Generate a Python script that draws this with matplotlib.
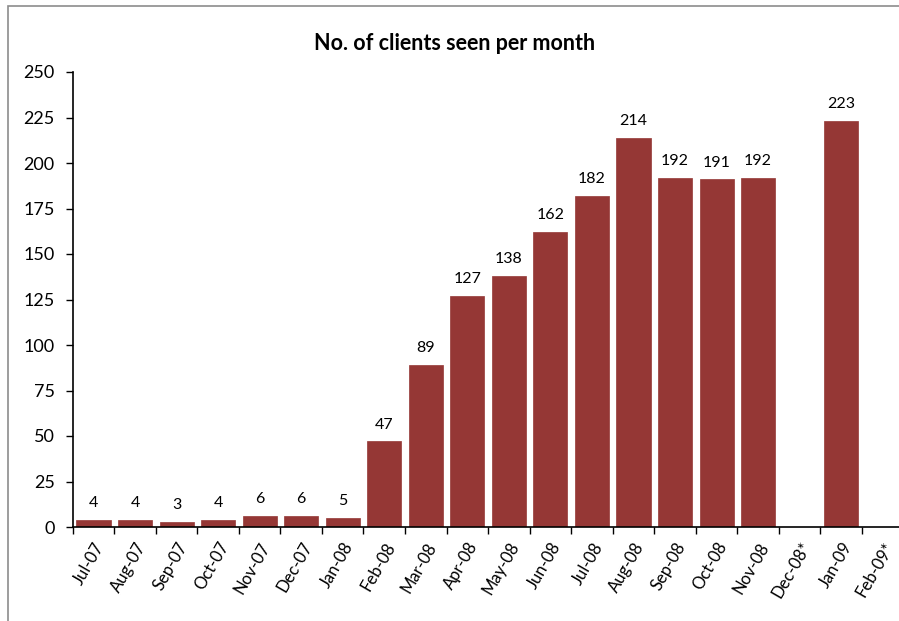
import numpy as np
import matplotlib.pyplot as plt
from matplotlib.patches import Rectangle

plt.rcParams['font.family'] = ['Lato', 'DejaVu Sans']

months = ['Jul-07', 'Aug-07', 'Sep-07', 'Oct-07', 'Nov-07', 'Dec-07', 'Jan-08',
          'Feb-08', 'Mar-08', 'Apr-08', 'May-08', 'Jun-08', 'Jul-08', 'Aug-08',
          'Sep-08', 'Oct-08', 'Nov-08', 'Dec-08*', 'Jan-09', 'Feb-09*']
clients = [4, 4, 3, 4, 6, 6, 5, 47, 89, 127, 138, 162, 182, 214, 192, 191, 192,
           None, 223, None]
yticks = [0, 25, 50, 75, 100, 125, 150, 175, 200, 225, 250]

fig = plt.figure(figsize=(8.99, 6.21), dpi=100)
# outer chart frame (cut off at right and bottom)
fig.patches.append(Rectangle((8 / 899, -0.1), 1.2, 1 - 6 / 621 + 0.1,
                             transform=fig.transFigure, fill=False,
                             edgecolor='#8c8c8c', linewidth=1.2))
ax = fig.add_axes([72.7 / 899, 1 - 527 / 621, (903.5 - 72.7) / 899, (527 - 72) / 621])

x = np.arange(len(months))
for xi, v in zip(x, clients):
    if v is None:
        continue
    ax.bar(xi, v, width=0.82, color='#953735', edgecolor='#953735', linewidth=0.5)
    ax.annotate(str(v), (xi, v), xytext=(0, 7), textcoords='offset points',
                ha='center', va='bottom', fontsize=11.5)

ax.set_xlim(-0.5, len(months) - 0.5)
ax.set_ylim(0, 250)
ax.set_yticks(yticks)
ax.set_yticklabels([str(t) for t in yticks], fontsize=13)
ax.set_xticks(x)
ax.set_xticklabels(months, rotation=60, ha='right', va='top',
                   rotation_mode='anchor', fontsize=12)
ax.tick_params(axis='x', length=0, pad=9)
ax.set_xticks(np.arange(len(months)) - 0.5, minor=True)
ax.tick_params(axis='x', which='minor', length=5, direction='out', width=1)
ax.tick_params(axis='y', length=5, width=1, direction='out', pad=8)
for s in ['top', 'right']:
    ax.spines[s].set_visible(False)
for s in ['left', 'bottom']:
    ax.spines[s].set_linewidth(1.2)

fig.text(455 / 899, 1 - 43 / 621, 'No. of clients seen per month', ha='center',
         va='center', fontsize=15.5, fontweight='bold')

fig.savefig('out.png', dpi=100)
